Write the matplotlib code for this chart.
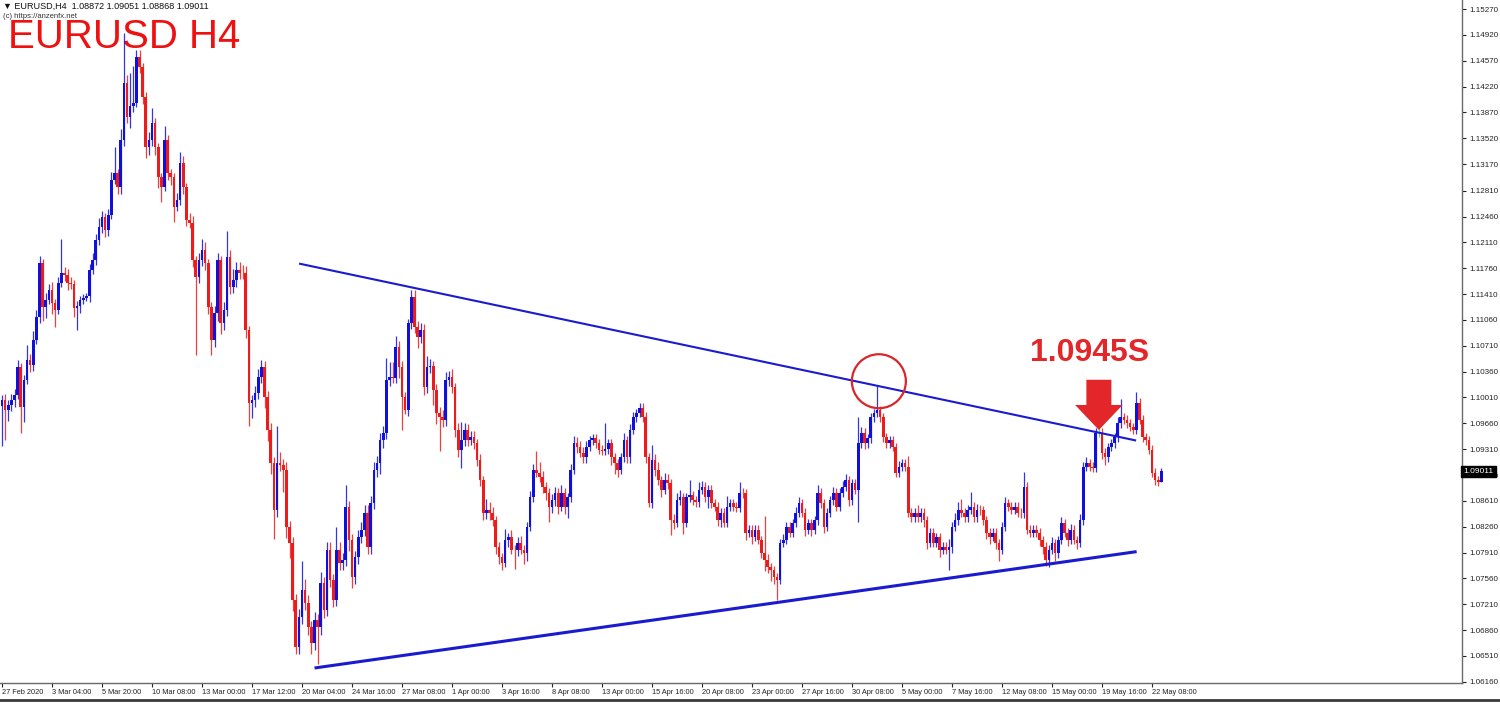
import numpy as np
import matplotlib
matplotlib.use("Agg")
import matplotlib.pyplot as plt
from matplotlib import transforms

plt.rcParams['font.family'] = ['Liberation Sans', 'DejaVu Sans']

# EURUSD H4, 27 Feb 2020 12:00 .. 22 May 2020 20:00 (one value per bar)
first_open = 1.0990
closes = [
    1.0998, 1.0984, 1.0991, 1.0998, 1.1004, 1.1042, 1.0988, 1.1025, 1.1052, 1.1045, 1.1079, 1.1110, 1.1183, 1.1124, 1.1133, 1.1147,
    1.1129, 1.1120, 1.1156, 1.1170, 1.1167, 1.1156, 1.1154, 1.1122, 1.1125, 1.1133, 1.1136, 1.1138, 1.1174, 1.1187, 1.1214, 1.1232,
    1.1245, 1.1228, 1.1248, 1.1296, 1.1305, 1.1286, 1.1350, 1.1427, 1.1381, 1.1395, 1.1400, 1.1462, 1.1448, 1.1408, 1.1340, 1.1350,
    1.1373, 1.1340, 1.1299, 1.1286, 1.1350, 1.1305, 1.1299, 1.1259, 1.1268, 1.1318, 1.1286, 1.1241, 1.1237, 1.1187, 1.1164, 1.1187,
    1.1201, 1.1183, 1.1124, 1.1079, 1.1115, 1.1187, 1.1102, 1.1120, 1.1191, 1.1151, 1.1160, 1.1174, 1.1170, 1.1169, 1.1092, 1.0993,
    1.0998, 1.1007, 1.1029, 1.1042, 1.1002, 1.0957, 1.0912, 1.0849, 1.0912, 1.0910, 1.0903, 1.0826, 1.0804, 1.0727, 1.0663, 1.0704,
    1.0740, 1.0723, 1.0690, 1.0669, 1.0700, 1.0690, 1.0750, 1.0713, 1.0795, 1.0754, 1.0727, 1.0795, 1.0777, 1.0781, 1.0853, 1.0808,
    1.0758, 1.0785, 1.0812, 1.0822, 1.0845, 1.0799, 1.0858, 1.0903, 1.0912, 1.0943, 1.0953, 1.1025, 1.1029, 1.1028, 1.1069, 1.1042,
    1.1002, 1.0984, 1.1102, 1.1137, 1.1096, 1.1083, 1.1092, 1.1015, 1.1042, 1.1043, 1.1011, 1.0980, 1.0974, 1.0971, 1.1025, 1.1029,
    1.1015, 1.0957, 1.0930, 1.0943, 1.0957, 1.0943, 1.0947, 1.0939, 1.0916, 1.0889, 1.0845, 1.0849, 1.0845, 1.0835, 1.0799, 1.0785,
    1.0777, 1.0808, 1.0812, 1.0795, 1.0794, 1.0804, 1.0795, 1.0790, 1.0826, 1.0866, 1.0903, 1.0899, 1.0893, 1.0880, 1.0872, 1.0853,
    1.0862, 1.0872, 1.0853, 1.0872, 1.0853, 1.0866, 1.0903, 1.0939, 1.0934, 1.0926, 1.0920, 1.0934, 1.0943, 1.0946, 1.0939, 1.0930,
    1.0929, 1.0931, 1.0939, 1.0920, 1.0912, 1.0903, 1.0920, 1.0943, 1.0920, 1.0957, 1.0974, 1.0980, 1.0987, 1.0974, 1.0920, 1.0858,
    1.0916, 1.0903, 1.0889, 1.0876, 1.0889, 1.0885, 1.0835, 1.0831, 1.0862, 1.0866, 1.0831, 1.0866, 1.0869, 1.0862, 1.0859, 1.0876,
    1.0880, 1.0866, 1.0876, 1.0858, 1.0853, 1.0835, 1.0845, 1.0831, 1.0853, 1.0858, 1.0853, 1.0852, 1.0872, 1.0871, 1.0818, 1.0822,
    1.0812, 1.0822, 1.0808, 1.0790, 1.0781, 1.0771, 1.0767, 1.0758, 1.0754, 1.0804, 1.0808, 1.0826, 1.0818, 1.0831, 1.0845, 1.0858,
    1.0845, 1.0822, 1.0831, 1.0822, 1.0835, 1.0872, 1.0858, 1.0826, 1.0845, 1.0862, 1.0872, 1.0853, 1.0872, 1.0880, 1.0889, 1.0862,
    1.0885, 1.0876, 1.0939, 1.0953, 1.0939, 1.0946, 1.0974, 1.0980, 1.0984, 1.0974, 1.0947, 1.0939, 1.0943, 1.0934, 1.0899, 1.0907,
    1.0912, 1.0907, 1.0845, 1.0839, 1.0845, 1.0839, 1.0845, 1.0835, 1.0804, 1.0818, 1.0804, 1.0812, 1.0795, 1.0799, 1.0795, 1.0799,
    1.0826, 1.0835, 1.0849, 1.0845, 1.0839, 1.0849, 1.0853, 1.0839, 1.0849, 1.0848, 1.0835, 1.0818, 1.0812, 1.0818, 1.0804, 1.0795,
    1.0826, 1.0858, 1.0853, 1.0849, 1.0853, 1.0845, 1.0844, 1.0880, 1.0822, 1.0818, 1.0822, 1.0818, 1.0808, 1.0799, 1.0781, 1.0795,
    1.0804, 1.0790, 1.0808, 1.0831, 1.0818, 1.0808, 1.0822, 1.0808, 1.0804, 1.0835, 1.0907, 1.0912, 1.0907, 1.0906, 1.0953, 1.0953,
    1.0926, 1.0920, 1.0934, 1.0939, 1.0947, 1.0966, 1.0974, 1.0971, 1.0966, 1.0961, 1.0957, 1.0994, 1.0971, 1.0947, 1.0943, 1.0930,
    1.0899, 1.0889, 1.0887, 1.0901,
]

# wick lengths in pips above / below the body
wick_up = [
    6, 8, 6, 8, 8, 10, 6, 6, 20, 8, 12, 10, 10, 6, 10, 8,
    10, 6, 8, 45, 8, 8, 8, 6, 6, 6, 5, 5, 8, 10, 8, 12,
    8, 6, 8, 10, 35, 6, 15, 68, 10, 45, 50, 10, 10, 6, 6, 10,
    20, 6, 6, 6, 18, 6, 6, 6, 10, 15, 10, 6, 10, 10, 6, 10,
    15, 10, 6, 6, 10, 10, 6, 10, 35, 10, 15, 10, 10, 10, 10, 6,
    6, 10, 10, 10, 8, 8, 10, 8, 50, 15, 8, 10, 8, 8, 8, 10,
    40, 15, 10, 8, 10, 8, 15, 8, 10, 10, 8, 30, 10, 10, 30, 8,
    8, 8, 10, 10, 10, 10, 10, 10, 10, 10, 10, 30, 20, 20, 15, 8,
    8, 6, 5, 10, 10, 8, 10, 8, 15, 10, 8, 8, 8, 10, 10, 8,
    10, 6, 10, 25, 10, 8, 8, 8, 6, 8, 6, 15, 10, 8, 6, 6,
    6, 15, 6, 10, 6, 8, 10, 6, 6, 8, 8, 25, 15, 8, 6, 6,
    8, 8, 6, 10, 6, 6, 8, 10, 8, 8, 8, 8, 6, 6, 6, 6,
    6, 35, 6, 6, 6, 6, 6, 10, 6, 8, 8, 6, 6, 6, 8, 6,
    20, 8, 10, 6, 10, 8, 6, 8, 10, 10, 6, 6, 20, 6, 6, 10,
    8, 6, 6, 6, 6, 6, 6, 6, 15, 6, 6, 6, 15, 6, 6, 6,
    6, 6, 6, 6, 50, 8, 6, 6, 6, 6, 8, 6, 6, 6, 8, 8,
    6, 6, 6, 6, 6, 10, 6, 6, 6, 6, 8, 6, 6, 8, 8, 6,
    6, 6, 35, 8, 6, 6, 6, 6, 34, 6, 6, 6, 6, 6, 6, 8,
    6, 6, 15, 6, 6, 10, 6, 6, 6, 6, 6, 6, 6, 6, 6, 10,
    6, 10, 10, 15, 6, 6, 20, 6, 8, 6, 6, 6, 6, 6, 6, 6,
    6, 8, 6, 6, 6, 6, 6, 20, 6, 6, 6, 6, 6, 6, 6, 6,
    8, 6, 6, 8, 6, 6, 8, 6, 6, 8, 6, 8, 6, 6, 6, 6,
    6, 6, 6, 6, 6, 8, 25, 6, 6, 6, 6, 15, 6, 6, 6, 6,
    6, 6, 6, 4,
]
wick_dn = [
    55, 40, 15, 8, 10, 5, 35, 20, 6, 10, 8, 6, 8, 20, 15, 6,
    15, 23, 6, 6, 8, 10, 6, 12, 30, 10, 5, 5, 8, 6, 6, 6,
    8, 10, 8, 6, 6, 10, 10, 8, 8, 15, 8, 6, 8, 10, 15, 10,
    8, 10, 15, 20, 6, 10, 10, 20, 6, 6, 10, 8, 6, 10, 105, 8,
    8, 10, 10, 20, 10, 10, 15, 10, 8, 10, 8, 10, 8, 8, 10, 30,
    20, 10, 8, 8, 15, 15, 15, 40, 10, 8, 30, 15, 20, 15, 10, 10,
    10, 10, 10, 15, 10, 50, 10, 10, 8, 10, 10, 8, 10, 10, 8, 15,
    15, 10, 10, 8, 8, 10, 10, 8, 10, 15, 10, 8, 8, 8, 8, 15,
    45, 5, 8, 8, 8, 15, 8, 10, 8, 8, 20, 15, 45, 10, 8, 8,
    8, 10, 10, 25, 8, 8, 6, 8, 8, 8, 10, 8, 10, 8, 10, 10,
    10, 6, 10, 6, 25, 8, 6, 15, 10, 6, 6, 6, 6, 8, 10, 20,
    8, 8, 10, 6, 10, 15, 6, 6, 8, 6, 8, 8, 6, 6, 6, 6,
    6, 6, 6, 10, 15, 10, 6, 6, 8, 8, 6, 6, 6, 6, 8, 5,
    6, 8, 6, 10, 6, 8, 20, 8, 6, 6, 15, 6, 6, 6, 6, 6,
    6, 6, 15, 6, 6, 8, 10, 6, 6, 6, 6, 6, 6, 6, 10, 6,
    10, 6, 6, 6, 15, 8, 15, 10, 27, 6, 6, 6, 6, 6, 6, 6,
    6, 8, 6, 8, 6, 6, 6, 8, 6, 6, 6, 6, 6, 6, 6, 8,
    6, 6, 43, 6, 8, 6, 6, 6, 6, 6, 6, 6, 6, 6, 6, 6,
    6, 6, 6, 6, 6, 6, 6, 10, 8, 6, 6, 6, 10, 6, 6, 27,
    8, 6, 6, 6, 6, 6, 6, 6, 6, 6, 6, 8, 10, 6, 8, 15,
    6, 6, 6, 6, 6, 6, 6, 6, 6, 6, 6, 6, 8, 10, 8, 10,
    6, 10, 6, 6, 6, 8, 6, 6, 8, 6, 6, 6, 6, 6, 6, 6,
    8, 10, 6, 6, 6, 6, 6, 6, 6, 6, 6, 6, 6, 6, 6, 6,
    6, 6, 6, 0,
]

time_labels = ["27 Feb 2020", "3 Mar 04:00", "5 Mar 20:00", "10 Mar 08:00", "13 Mar 00:00",
               "17 Mar 12:00", "20 Mar 04:00", "24 Mar 16:00", "27 Mar 08:00", "1 Apr 00:00",
               "3 Apr 16:00", "8 Apr 08:00", "13 Apr 00:00", "15 Apr 16:00", "20 Apr 08:00",
               "23 Apr 00:00", "27 Apr 16:00", "30 Apr 08:00", "5 May 00:00", "7 May 16:00",
               "12 May 08:00", "15 May 00:00", "19 May 16:00", "22 May 08:00"]
price_ticks = [1.15270, 1.14920, 1.14570, 1.14220, 1.13870, 1.13520, 1.13170, 1.12810,
               1.12460, 1.12110, 1.11760, 1.11410, 1.11060, 1.10710, 1.10360, 1.10010,
               1.09660, 1.09310, 1.08960, 1.08610, 1.08260, 1.07910, 1.07560, 1.07210,
               1.06860, 1.06510, 1.06160]
last_price = 1.09011

# hand drawn objects (bar index, price)
upper_line_x = [95.4, 362.6]
upper_line_y = [1.1182, 1.0943]
lower_line_x = [100.5, 362.6]
lower_line_y = [1.0635, 1.0792]
circle_bar, circle_price = 280.6, 1.1023
arrow_bar, arrow_top, arrow_tip = 351.0, 1.1025, 1.0957

BULL = '#1010dc'
BEAR = '#ec1c1c'
RED = '#e3262a'

assert len(closes) == len(wick_up) == len(wick_dn)

c = np.array(closes)
o = np.concatenate([[first_open], c[:-1]])
hi = np.maximum(o, c) + np.array(wick_up) * 0.0001
lo = np.minimum(o, c) - np.array(wick_dn) * 0.0001
x = np.arange(len(c))

colors = np.where(c > o, BULL, BEAR).astype(object)
colors[c == o] = '#33dd33'

fig = plt.figure(figsize=(15, 7.03), dpi=100)
ax = fig.add_axes([0, 20 / 703, 1462 / 1500, 683 / 703])

ax.vlines(x, lo, hi, colors=list(colors), linewidth=0.9, alpha=0.85, zorder=2)
body = np.maximum(np.abs(c - o), 0.00006)
ax.bar(x, body, bottom=np.minimum(o, c), width=0.85, color=list(colors),
       linewidth=0, zorder=3)

ax.plot(upper_line_x, upper_line_y, color='#1a1ad0', lw=1.5, zorder=4)
ax.plot(lower_line_x, lower_line_y, color='#1a1ad0', lw=2.2, zorder=4)
ax.scatter([circle_bar], [circle_price], s=1512, facecolors='none',
           edgecolors='#d8262a', linewidths=1.6, zorder=5)
ax.annotate('', xy=(arrow_bar, arrow_tip), xytext=(arrow_bar, arrow_top),
            arrowprops=dict(arrowstyle='simple,head_length=1.0,head_width=1.9,tail_width=1.0',
                            mutation_scale=18, fc=RED, ec=RED, lw=0,
                            shrinkA=0, shrinkB=0), zorder=6)

ax.set_xlim(-0.64, 467.2)
ax.set_ylim(1.06144, 1.15392)

ax.set_xticks(np.arange(len(time_labels)) * 16, time_labels, ha='left')
ax.set_yticks(price_ticks, [f"{p:.5f}" for p in price_ticks])
ax.yaxis.tick_right()
ax.tick_params(axis='x', direction='out', length=3, width=0.8, pad=1.5,
               labelsize=5.3, colors='#222222')
ax.tick_params(axis='y', direction='out', length=3, width=0.8, pad=2,
               labelsize=5.8, colors='#222222')
for side in ['left', 'top']:
    ax.spines[side].set_visible(False)
for side in ['right', 'bottom']:
    ax.spines[side].set_color('#6a6a6a')
    ax.spines[side].set_linewidth(1.0)

trans = transforms.blended_transform_factory(ax.transAxes, ax.transData)
ax.text(1.001, last_price, f"{last_price:.5f}", transform=trans, ha='left',
        va='center', fontsize=6, color='white', zorder=10, clip_on=False,
        bbox=dict(boxstyle='square,pad=0.25', fc='black', ec='black'))

# labels
ax.text(8 / 1500, 1 - 48 / 703, "EURUSD H4", transform=fig.transFigure,
        fontsize=29, color='#ee1111', va='baseline', ha='left', zorder=1)
ax.text(3 / 1500, 1 - 6 / 703, "\u25bc EURUSD,H4  1.08872 1.09051 1.08868 1.09011",
        transform=fig.transFigure, fontsize=6.5, color='#111111', va='center',
        ha='left', zorder=1)
ax.text(3 / 1500, 1 - 16 / 703, "(c) https://anzenfx.net", transform=fig.transFigure,
        fontsize=5.5, color='#333333', va='center', ha='left', zorder=1)
ax.text(1030 / 1500, 1 - 361 / 703, "1.0945S", transform=fig.transFigure,
        fontsize=23, fontweight='bold', color=RED, va='baseline', ha='left', zorder=7)

fig.add_artist(plt.Line2D([0, 1], [1 - 700 / 703] * 2, color='#3a3a3a', lw=2,
                          transform=fig.transFigure))

fig.savefig("out.png", dpi=100, facecolor='white')
